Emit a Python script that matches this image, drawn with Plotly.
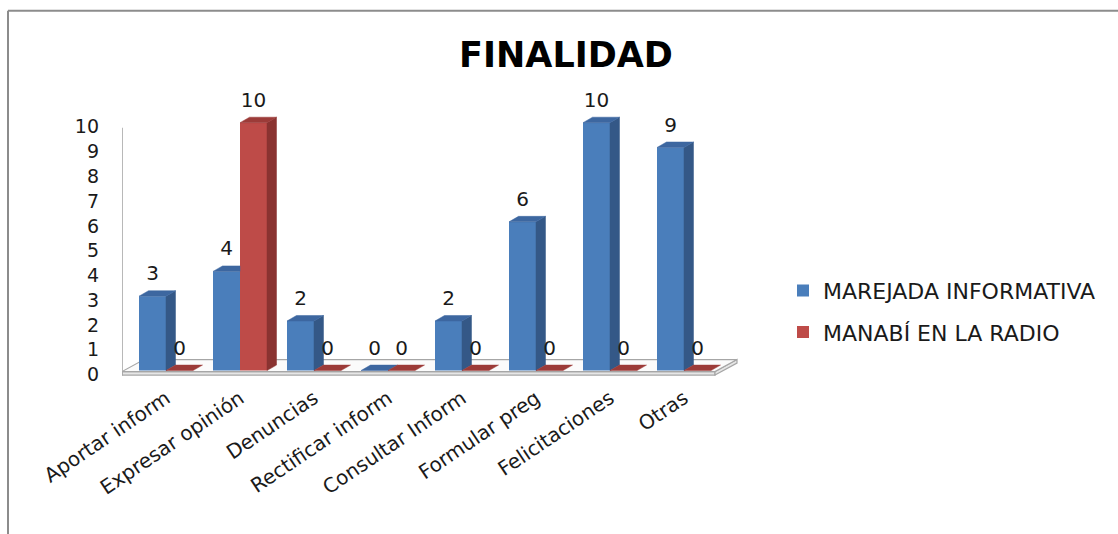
import plotly.graph_objects as go

# ---------------- data ----------------
categories = ["Aportar inform", "Expresar opinión", "Denuncias", "Rectificar inform",
              "Consultar Inform", "Formular preg", "Felicitaciones", "Otras"]
series_names = ["MAREJADA INFORMATIVA", "MANABÍ EN LA RADIO"]
marejada = [3, 4, 2, 0, 2, 6, 10, 9]
manabi = [0, 10, 0, 0, 0, 0, 0, 0]
y_ticks = list(range(0, 11))
title_text = "FINALIDAD"

# ---------------- geometry / style ----------------
W, H = 1118, 534
PLOT_L, PLOT_R = 122, 740
ZERO_PX, PPU = 371, 24.8
Y_LO, Y_HI = -0.3, 11.4
PLOT_T = ZERO_PX - Y_HI * PPU
PLOT_B = ZERO_PX - Y_LO * PPU
CAT0_PX, CAT_STEP = 166, 74
X_LO = (PLOT_L - CAT0_PX) / CAT_STEP
X_HI = (PLOT_R - CAT0_PX) / CAT_STEP


def xu(px):
    return px / CAT_STEP


def yu(px):
    return px / PPU


def paper_x(px):
    return (px - PLOT_L) / (PLOT_R - PLOT_L)


def paper_y(py):
    return (PLOT_B - py) / (PLOT_B - PLOT_T)


def dx(px):
    return X_LO + (px - PLOT_L) / CAT_STEP


def dy(py):
    return (ZERO_PX - py) / PPU


BAR_W = xu(27)
DEPTH_X = xu(9.5)
DEPTH_Y = yu(5.5)
LABEL_OFF = yu(21)

FONT = "DejaVu Sans"
BLUE = dict(front="#4A7EBB", side="#345887", top="#3D67A0")
RED = dict(front="#BE4B48", side="#8A3331", top="#9C3B38")

idx = list(range(len(categories)))

fig = go.Figure()

# front faces (real bars)
fig.add_trace(go.Bar(
    x=[i - BAR_W / 2 for i in idx], y=marejada, width=BAR_W,
    name=series_names[0], marker=dict(color=BLUE["front"], line=dict(width=0)),
    legendgroup="a", hovertext=categories, hoverinfo="text+y"))
fig.add_trace(go.Bar(
    x=[i + BAR_W / 2 for i in idx], y=manabi, width=BAR_W,
    name=series_names[1], marker=dict(color=RED["front"], line=dict(width=0)),
    legendgroup="b", hovertext=categories, hoverinfo="text+y"))


def poly_trace(polys, color):
    xs, ys = [], []
    for p in polys:
        for (a, b) in p:
            xs.append(a)
            ys.append(b)
        xs.append(p[0][0])
        ys.append(p[0][1])
        xs.append(None)
        ys.append(None)
    return go.Scatter(x=xs, y=ys, mode="lines", fill="toself", fillcolor=color,
                      line=dict(color=color, width=0.5), hoverinfo="skip",
                      showlegend=False, legendgroup="z")


d, e = DEPTH_X, DEPTH_Y
# blue side / top faces (clipped where the red front hides them)
b_side, b_top = [], []
for i, v, o in zip(idx, marejada, manabi):
    xl, xr = i - BAR_W, i
    if o < v:
        lo = o
        b_side.append([(xr, lo), (xr, v), (xr + d, v + e), (xr + d, lo + e)])
    if o >= v + e:
        b_top.append([(xl, v), (xr, v), (xr, v + e), (xl + d, v + e)])
    else:
        b_top.append([(xl, v), (xr, v), (xr + d, v + e), (xl + d, v + e)])
fig.add_trace(poly_trace(b_side, BLUE["side"]))
fig.add_trace(poly_trace(b_top, BLUE["top"]))

r_side, r_top = [], []
for i, v in zip(idx, manabi):
    xl, xr = i, i + BAR_W
    if v > 0:
        r_side.append([(xr, 0), (xr, v), (xr + d, v + e), (xr + d, e)])
    r_top.append([(xl, v), (xr, v), (xr + d, v + e), (xl + d, v + e)])
fig.add_trace(poly_trace(r_side, RED["side"]))
fig.add_trace(poly_trace(r_top, RED["top"]))

# data labels
for vals, sign in ((marejada, -1), (manabi, 1)):
    fig.add_trace(go.Scatter(
        x=[i + sign * BAR_W / 2 for i in idx], y=[v + LABEL_OFF for v in vals],
        mode="text", text=[str(v) for v in vals], textposition="middle center",
        textfont=dict(family=FONT, size=20, color="#1a1a1a"),
        hoverinfo="skip", showlegend=False, cliponaxis=False, legendgroup="z"))

# floor slab (3D base)
FL = (dx(122), dy(372))
FR = (dx(715), dy(372))
BR = (dx(737), dy(360))
BL = (dx(144), dy(360))
FLb = (dx(122), dy(375.5))
FRb = (dx(715), dy(375.5))
BRb = (dx(737), dy(363.5))


def path(pts):
    return "M " + " L ".join(f"{a},{b}" for a, b in pts) + " Z"


shapes = [
    dict(type="path", xref="x", yref="y", layer="below",
         path=path([FL, FR, FRb, FLb]), fillcolor="#e6e6e6",
         line=dict(color="#a6a6a6", width=1.2)),
    dict(type="path", xref="x", yref="y", layer="below",
         path=path([FR, BR, BRb, FRb]), fillcolor="#e6e6e6",
         line=dict(color="#a6a6a6", width=1.2)),
    dict(type="path", xref="x", yref="y", layer="below",
         path=path([FL, FR, BR, BL]), fillcolor="#fbfbfb",
         line=dict(color="#a6a6a6", width=1.2)),
    # vertical axis line
    dict(type="line", xref="x", yref="y", layer="below",
         x0=dx(122), x1=dx(122), y0=dy(376), y1=dy(128),
         line=dict(color="#a6a6a6", width=1.6)),
    # chart frame (left and top)
    dict(type="line", xref="paper", yref="paper",
         x0=paper_x(8), x1=paper_x(8), y0=paper_y(11), y1=paper_y(540),
         line=dict(color="#8c8c8c", width=2)),
    dict(type="line", xref="paper", yref="paper",
         x0=paper_x(8), x1=paper_x(1125), y0=paper_y(11), y1=paper_y(11),
         line=dict(color="#8c8c8c", width=2)),
]

fig.update_layout(
    width=W, height=H,
    margin=dict(l=PLOT_L, r=W - PLOT_R, t=PLOT_T, b=H - PLOT_B, pad=0),
    paper_bgcolor="white", plot_bgcolor="white",
    barmode="overlay",
    showlegend=True,
    title=dict(text=title_text, x=566 / W, y=1 - 55 / H, xref="container",
               yref="container", xanchor="center", yanchor="middle",
               font=dict(family=FONT, size=35, color="#000000", weight="bold")),
    xaxis=dict(range=[X_LO, X_HI], tickmode="array", tickvals=idx, ticktext=categories,
               tickangle=-34, showgrid=False, zeroline=False, showline=False, ticks="",
               tickfont=dict(family=FONT, size=20, color="#1a1a1a"),
               ticklabelstandoff=4),
    yaxis=dict(range=[Y_LO, Y_HI], tickmode="array", tickvals=y_ticks,
               showgrid=False, zeroline=False, showline=False, ticks="",
               tickfont=dict(family=FONT, size=19, color="#1a1a1a"),
               ticklabelstandoff=22, ticklabelshift=4),
    legend=dict(x=paper_x(783), y=paper_y(270), xanchor="left", yanchor="top",
                font=dict(family=FONT, size=22, color="#1a1a1a"),
                tracegroupgap=10, bgcolor="rgba(0,0,0,0)", traceorder="grouped"),
    shapes=shapes,
)

fig.write_html("out.html")
